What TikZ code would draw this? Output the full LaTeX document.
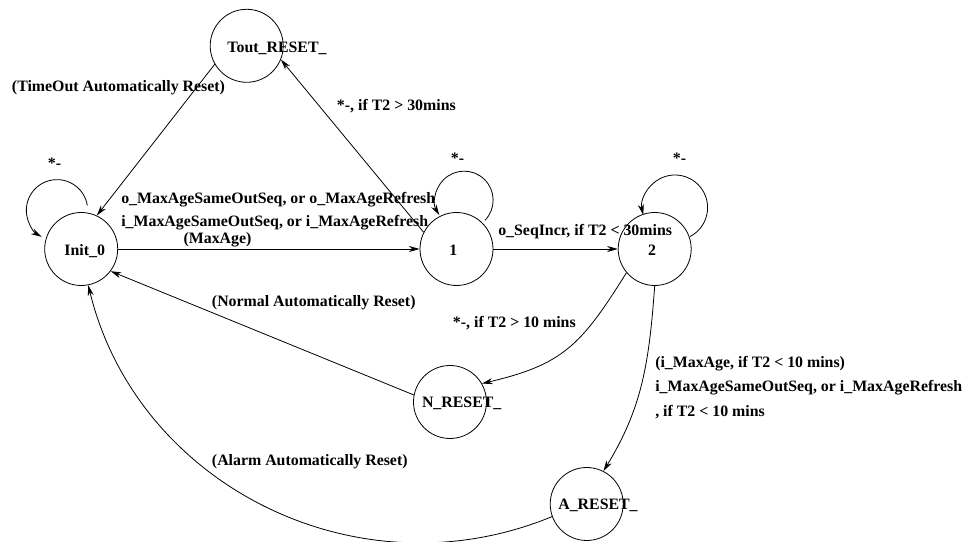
\documentclass[tikz,border=0pt]{standalone}
\usepackage{fontspec}
\setmainfont{Liberation Serif}
\usetikzlibrary{arrows.meta}
\tikzset{
  statenode/.style={circle, draw, line width=0.6pt, minimum size=54.75pt, inner sep=0pt},
  statetext/.style={anchor=base, inner sep=0pt, font=\fontsize{11.9}{14}\selectfont\bfseries},
  lbl/.style={anchor=base west, inner sep=0pt, font=\fontsize{11.9}{14}\selectfont\bfseries},
  arr/.style={line width=0.6pt, -{Stealth[length=8pt, width=4.5pt, inset=2.5pt]}}
}
\begin{document}
\begin{tikzpicture}[x=0.75pt, y=0.75pt]
\useasboundingbox (0,0) rectangle (965,542);

% states
\node[statenode] (Tout) at (246.7,496.2) {};
\node[statenode] (Init) at (81.2,293) {};
\node[statenode] (one)  at (456.5,293) {};
\node[statenode] (two)  at (654.7,293) {};
\node[statenode] (N)    at (450,140) {};
\node[statenode] (A)    at (586.7,38) {};

% state texts
\node[statetext] (Tout-t) at (277,489) {Tout\_RESET\_};
\node[statetext] (Init-t) at (84.7,286) {Init\_0};
\node[statetext] (one-t)  at (453.3,286) {1};
\node[statetext] (two-t)  at (652,286) {2};
\node[statetext] (N-t)    at (461.7,134) {N\_RESET\_};
\node[statetext] (A-t)    at (598,32) {A\_RESET\_};

% connectors
\draw[arr] (Tout.210) -- (Init.65);
\draw[arr] (one.153) -- (Tout.338);
\draw[arr] (Init) -- (one);
\draw[arr] (one) -- (two);
\draw[arr] (N.169) -- (Init.323);
\draw[arr] (two.220) .. controls (580.8,196) and (562.5,177.4) .. (N.30);
\draw[arr] (two.270) .. controls (649,178) and (642,134) .. (A.63);
\draw[arr] (A.200) .. controls (357,-55) and (137,57) .. (Init.281);

% self loops
\draw[arr] ([shift={(6.1,43.5)}]Init.center) arc[start angle=9, end angle=240, radius=23pt];
\draw[arr] ([shift={(28.5,28.7)}]one.center) arc[start angle=-44, end angle=211, radius=21.75pt];
\draw[arr] ([shift={(35.3,12.45)}]two.center) arc[start angle=-62.6, end angle=193, radius=24.45pt];

% labels
\node[lbl] (l1) at (11.7,450.3) {(TimeOut Automatically Reset)};
\node[lbl] (l2) at (336.7,431) {*-, if T2 > 30mins};
\node[lbl] (l3) at (47.7,373) {*-};
\node[lbl] (l4) at (450.7,378) {*-};
\node[lbl] (l5) at (672.7,378) {*-};
\node[lbl] (l6) at (121,338) {o\_MaxAgeSameOutSeq, or o\_MaxAgeRefresh};
\node[lbl] (l7) at (121,315.3) {i\_MaxAgeSameOutSeq, or i\_MaxAgeRefresh};
\node[lbl] (l8) at (183.3,298) {(MaxAge)};
\node[lbl] (l9) at (498,306.3) {o\_SeqIncr, if T2 < 30mins};
\node[lbl] (l10) at (211.7,235.3) {(Normal Automatically Reset)};
\node[lbl] (l11) at (452.7,214.6) {*-, if T2 > 10 mins};
\node[lbl] (l12) at (211.7,76.6) {(Alarm Automatically Reset)};
\node[lbl] (l13) at (655,174.3) {(i\_MaxAge, if T2 < 10 mins)};
\node[lbl] (l14) at (655,150) {i\_MaxAgeSameOutSeq, or i\_MaxAgeRefresh};
\node[lbl] (l15) at (655,125) {, if T2 < 10 mins};
\end{tikzpicture}
\end{document}
